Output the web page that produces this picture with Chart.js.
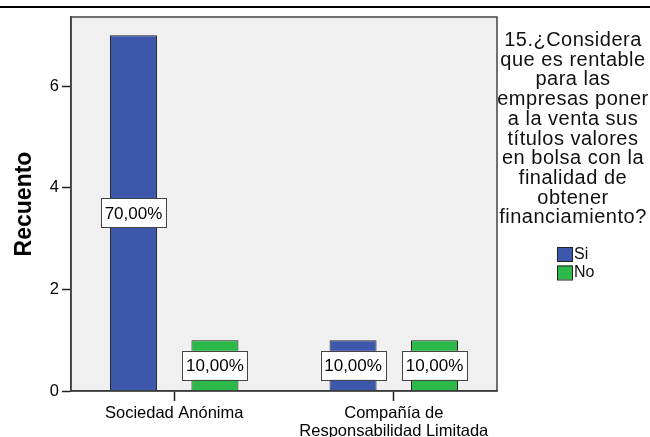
<!DOCTYPE html>
<html>
<head>
<meta charset="utf-8">
<script src="https://cdn.jsdelivr.net/npm/chart.js@4/dist/chart.umd.min.js"></script>
<style>
  html, body { margin: 0; padding: 0; background: #fff; }
  #wrap { width: 650px; height: 437px; }
</style>
</head>
<body>
<div id="wrap"><canvas id="chart" width="650" height="437"></canvas></div>
<script>
const categories = ["Sociedad Anónima", ["Compañía de", "Responsabilidad Limitada"]];
const seriesNames = ["Si", "No"];
const siValues = [7, 1];
const noValues = [1, 1];
const yTicks = [0, 2, 4, 6];
const legendTitle = ["15.¿Considera", "que es rentable", "para las", "empresas poner", "a la venta sus", "títulos valores", "en bolsa con la", "finalidad de", "obtener", "financiamiento?"];

const FONT = "'Liberation Sans', Arial, sans-serif";
const total = siValues.concat(noValues).reduce((a, b) => a + b, 0);
const toPoints = vals => vals.map((v, i) => ({ x: i, y: v }));

// fondo gris del área y marco
const frame = {
    id: "frame",
    beforeDraw(chart) {
        const { ctx, chartArea: a } = chart;
        ctx.save();
        ctx.fillStyle = "#f0f0f0";
        ctx.fillRect(a.left, a.top, a.right - a.left, a.bottom - a.top);
        ctx.restore();
    },
    afterDraw(chart) {
        const { ctx, chartArea: a } = chart;
        ctx.save();
        ctx.strokeStyle = "#444";
        ctx.lineWidth = 1.5;
        ctx.strokeRect(a.left, a.top, a.right - a.left, a.bottom - a.top);
        // línea de cabecera
        ctx.strokeStyle = "#000";
        ctx.lineWidth = 2;
        ctx.beginPath();
        ctx.moveTo(0, 7);
        ctx.lineTo(650, 7);
        ctx.stroke();

        // leyenda
        ctx.fillStyle = "#111";
        ctx.font = "20px " + FONT;
        ctx.letterSpacing = "0.5px";
        ctx.textAlign = "center";
        ctx.textBaseline = "alphabetic";
        legendTitle.forEach((t, i) => ctx.fillText(t, 573, 46 + i * 19.7));
        ctx.letterSpacing = "0px";
        ctx.font = "16px " + FONT;
        ctx.textAlign = "left";
        ctx.textBaseline = "middle";
        chart.data.datasets.forEach((ds, i) => {
            const y = 247 + i * 18.5;
            ctx.fillStyle = ds.backgroundColor;
            ctx.fillRect(557, y, 15, 14);
            ctx.strokeStyle = "#222";
            ctx.lineWidth = 1;
            ctx.strokeRect(557.5, y + 0.5, 15, 14);
            ctx.fillStyle = "#111";
            ctx.fillText(ds.label, 574, y + 7.5);
        });
        ctx.restore();
    }
};

// etiquetas de porcentaje
const pctLabels = {
    id: "pctLabels",
    afterDatasetsDraw(chart) {
        const ctx = chart.ctx;
        ctx.save();
        ctx.font = "17px " + FONT;
        ctx.textAlign = "center";
        ctx.textBaseline = "middle";
        chart.data.datasets.forEach((ds, di) => {
            chart.getDatasetMeta(di).data.forEach((bar, i) => {
                const txt = (ds.data[i].y / total * 100).toFixed(2).replace(".", ",") + "%";
                const cy = (bar.y + bar.base) / 2;
                const w = 65, h = 29;
                ctx.fillStyle = "#fff";
                ctx.fillRect(bar.x - w / 2, cy - h / 2, w, h);
                ctx.strokeStyle = "#444";
                ctx.lineWidth = 1;
                ctx.strokeRect(Math.round(bar.x - w / 2) + 0.5, Math.round(cy - h / 2) + 0.5, w, h);
                ctx.fillStyle = "#000";
                ctx.fillText(txt, bar.x, cy + 1);
            });
        });
        ctx.restore();
    }
};

new Chart(document.getElementById("chart"), {
    type: "bar",
    data: {
        datasets: [
            { label: seriesNames[0], data: toPoints(siValues), backgroundColor: "#3d57aa", borderColor: "#222", borderWidth: 1 },
            { label: seriesNames[1], data: toPoints(noValues), backgroundColor: "#2db84a", borderColor: "#222", borderWidth: 1 }
        ]
    },
    options: {
        responsive: false,
        animation: false,
        categoryPercentage: 0.742,
        barPercentage: 0.577,
        layout: { padding: { left: 0, top: 17, right: 153, bottom: 0 } },
        plugins: { legend: { display: false }, tooltip: { enabled: false } },
        scales: {
            x: {
                type: "linear",
                min: -0.47,
                max: 1.47,
                offset: false,
                afterFit: s => { s.height = 46; },
                afterBuildTicks: s => { s.ticks = categories.map((c, i) => ({ value: i })); },
                grid: { offset: false, drawOnChartArea: false, tickLength: 10, tickColor: "#222", tickWidth: 1.5 },
                border: { color: "#222", width: 1.5 },
                ticks: {
                    callback: v => categories[v],
                    color: "#000", font: { family: FONT, size: 16.5, lineHeight: 1.08 }, padding: 4, maxRotation: 0, autoSkip: false
                }
            },
            y: {
                min: 0,
                max: 7.36,
                afterFit: s => { s.width = 71; },
                afterBuildTicks: s => { s.ticks = yTicks.map(v => ({ value: v })); },
                grid: { drawOnChartArea: false, tickLength: 9, tickColor: "#222", tickWidth: 1.5 },
                border: { color: "#222", width: 1.5 },
                ticks: { color: "#000", font: { family: FONT, size: 16.5 }, padding: 3 },
                title: { display: true, text: "Recuento", color: "#000", font: { family: FONT, size: 23, weight: "bold" }, padding: { top: 11, bottom: 0 } }
            }
        }
    },
    plugins: [frame, pctLabels]
});
</script>
</body>
</html>
